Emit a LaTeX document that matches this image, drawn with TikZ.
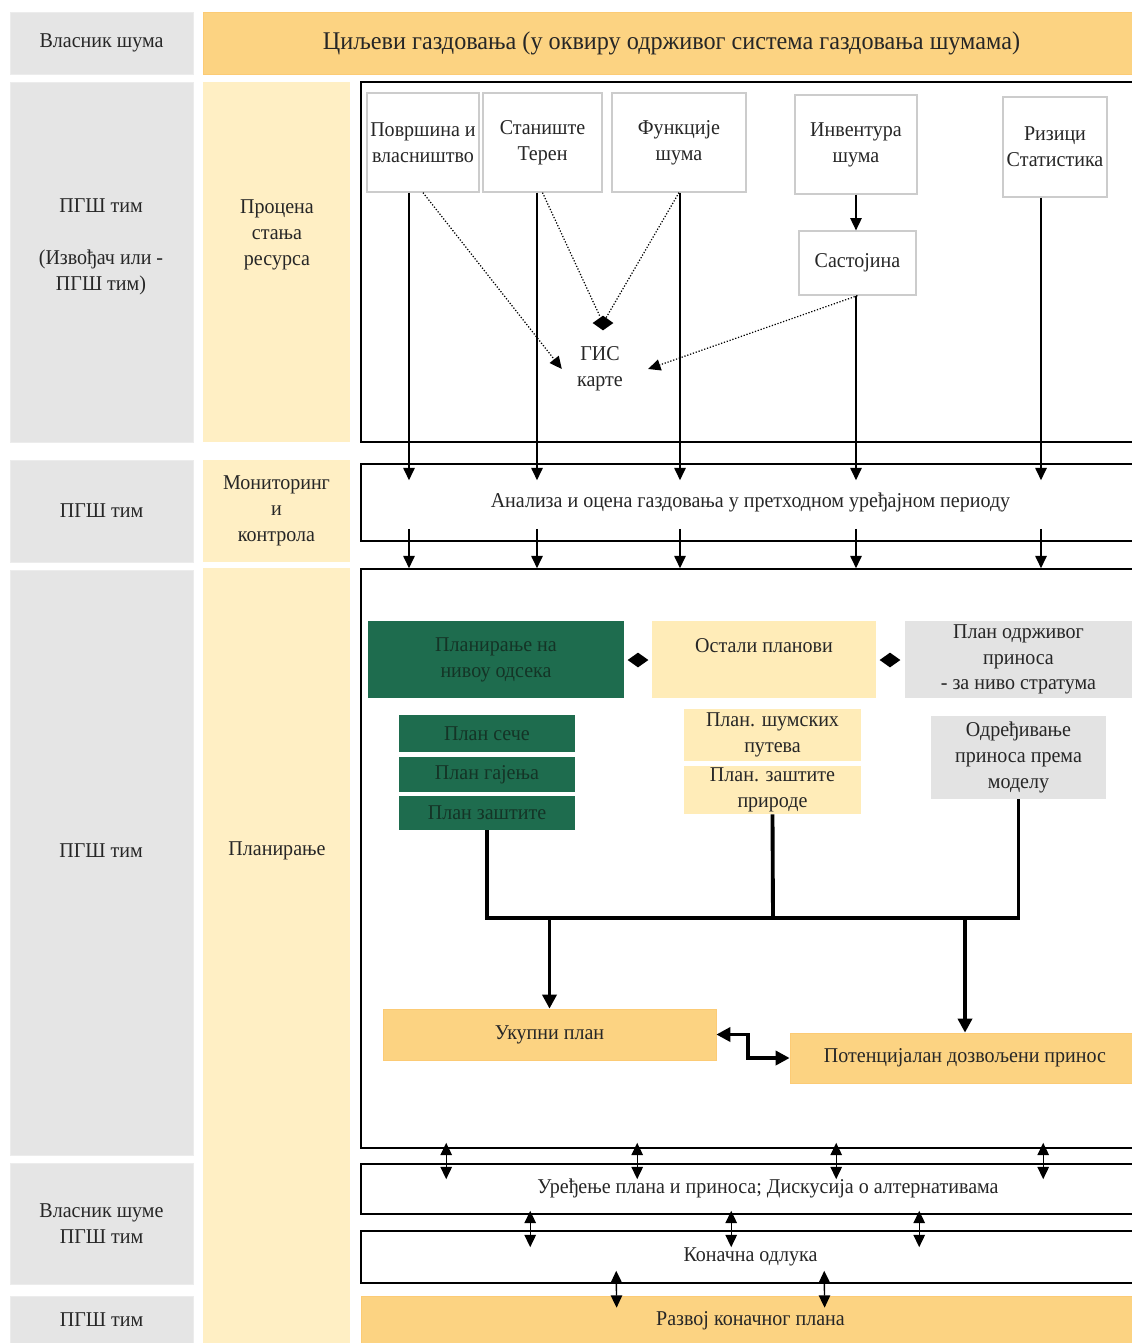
\documentclass[tikz,border=0pt]{standalone}
\usepackage{fontspec}
\setmainfont{Liberation Serif}[FakeStretch=0.95]
\usetikzlibrary{arrows.meta,calc,shapes.geometric}

\definecolor{cgray}{RGB}{229,229,229}
\definecolor{cyel}{RGB}{255,239,196}
\definecolor{cgold}{RGB}{252,211,130}
\definecolor{cgreen}{RGB}{30,108,78}
\definecolor{ctgreen}{RGB}{20,52,38}
\definecolor{cbox}{RGB}{255,236,184}
\definecolor{cpgray}{RGB}{227,227,227}

\tikzset{
	corners/.style n args={4}{at={({(#1+#3)/2},{(#2+#4)/2})}, minimum width={(#3-#1)*0.02cm}, minimum height={(#4-#2)*0.02cm}},
	txt/.style={align=center, text=black!85, font=\fontsize{12}{14.7}\selectfont},
	gcell/.style={txt, fill=cgray, draw=gray!15, inner sep=0pt},
	ycell/.style={txt, fill=cyel, inner sep=0pt},
	gold/.style={txt, fill=cgold, draw=cgold!90!orange, inner sep=0pt},
	stage/.style={txt, draw=black, line width=0.9pt, inner sep=0pt},
	src/.style={txt, fill=white, draw=gray!40, line width=0.7pt, inner sep=0pt},
	gbox/.style={txt, fill=cgreen, text=ctgreen, inner sep=0pt},
	ybox/.style={txt, fill=cbox, inner sep=0pt},
	pbox/.style={txt, fill=cpgray, inner sep=0pt},
	dmd/.style={diamond, fill=black, inner sep=0pt, minimum width=0.42cm, minimum height=0.3cm},
	arr/.style={line width=0.8pt, -{Triangle[length=7pt,width=6.5pt]}},
	darr/.style={line width=0.8pt, {Triangle[length=7pt,width=6.5pt]}-{Triangle[length=7pt,width=6.5pt]}},
	dots/.style={line width=0.7pt, densely dotted, -{Triangle[length=7pt,width=6.5pt]}},
	bold/.style={line width=2.2pt},
	boldarr/.style={bold, -{Triangle[length=8pt,width=8pt]}}
}

\begin{document}
\begin{tikzpicture}[x=0.02cm, y=-0.02cm]
	\useasboundingbox (0,0) rectangle (1132,1343);
	\clip (0,0) rectangle (1132,1343);

	% who
	\node[gcell, corners={10}{12}{193}{74}] (own) {Власник шума};
	\node[gcell, corners={10}{82}{193}{442}] (team1) {};
	\node[txt] (team1t) at (101,247) {ПГШ тим\\[14.7pt](Извођач или -\\ПГШ тим)};
	\node[gcell, corners={10}{460}{193}{562}] (team2) {ПГШ тим};
	\node[gcell, corners={10}{570}{193}{1155}] (team3) {};
	\node[txt] (team3t) at (101,851) {ПГШ тим};
	\node[gcell, corners={10}{1163}{193}{1284}] (team4) {Власник шуме\\ПГШ тим};
	\node[gcell, corners={10}{1296}{193}{1344}] (team5) {ПГШ тим};

	% what
	\node[gold, corners={203}{12}{1140}{74}, font=\fontsize{14.5}{17}\selectfont] (goal) {Циљеви газдовања (у оквиру одрживог система газдовања шумама)};
	\node[ycell, corners={203}{82}{350}{442}] (assess) {};
	\node[txt] (assesst) at (277,235) {Процена\\стања\\ресурса};
	\node[ycell, corners={203}{460}{350}{562}] (monit) {Мониторинг\\и\\контрола};
	\node[ycell, corners={203}{568}{350}{1350}] (planning) {};
	\node[txt] (planningt) at (277,851) {Планирање};

	% stages
	\node[stage, corners={361}{82}{1140}{442}] (res) {};
	\node[stage, corners={361}{464}{1140}{541}] (an) {Анализа и оцена газдовања у претходном уређајном периоду};
	\node[stage, corners={361}{569}{1140}{1148}] (plan) {};
	\node[stage, corners={361}{1164}{1140}{1214}] (ur) {};
	\node[txt] (urt) at (768,1188) {Уређење плана и приноса; Дискусија о алтернативама};
	\node[stage, corners={361}{1231}{1140}{1283}] (kon) {Коначна одлука};
	\node[gold, corners={361}{1296}{1140}{1346}] (dev) {Развој коначног плана};

	% resources
	\node[src, corners={367}{93}{479}{192}] (pov) {Површина и\\власништво};
	\node[src, corners={483}{93}{602}{192}] (stan) {Станиште\\Терен};
	\node[src, corners={612}{93}{746}{192}] (funk) {Функције\\шума};
	\node[src, corners={795}{95}{917}{194}] (inv) {Инвентура\\шума};
	\node[src, corners={1003}{97}{1107}{197}] (riz) {Ризици\\Статистика};
	\node[src, corners={799}{231}{916}{295}] (sast) {Састојина};
	\node[txt, inner xsep=0.3cm] (gis) at (600,369) {ГИС\\карте};
	\node[dmd] (gd) at (603,323) {};

	\coordinate (c1) at (409,0);
	\coordinate (c2) at (537,0);
	\coordinate (c3) at (680,0);
	\coordinate (c4) at (856,0);
	\coordinate (c5) at (1041,0);

	\draw[dots] (pov.south) -- (gis.west);
	\draw[line width=0.7pt, densely dotted] (stan.south) -- (gd);
	\draw[line width=0.7pt, densely dotted] (funk.south) -- (gd);
	\draw[dots] (sast.south) -- ([xshift=0.2cm]gis.east);
	\draw[arr] (c4 |- inv.south) -- (c4 |- sast.north);

	\draw[arr] (c1 |- pov.south) -- ($(c1 |- an.north)+(0,17)$);
	\draw[arr] (c2 |- stan.south) -- ($(c2 |- an.north)+(0,17)$);
	\draw[arr] (c3 |- funk.south) -- ($(c3 |- an.north)+(0,17)$);
	\draw[arr] (c4 |- sast.south) -- ($(c4 |- an.north)+(0,17)$);
	\draw[arr] (c5 |- riz.south) -- ($(c5 |- an.north)+(0,17)$);
	\foreach \c in {c1,c2,c3,c4,c5}
		\draw[arr] ($(\c |- an.south)+(0,-13)$) -- (\c |- plan.north);

	% planning
	\node[gbox, corners={368}{621}{624}{698}] (odsek) {Планирање на\\нивоу одсека};
	\node[ybox, corners={652}{621}{876}{698}] (ostali) {};
	\node[txt] (ostalit) at (764,646) {Остали планови};
	\node[pbox, corners={905}{621}{1132}{698}] (strat) {План одрживог\\приноса\\- за ниво стратума};
	\node[dmd] (dm1) at (638,660) {};
	\node[dmd] (dm2) at (890,660) {};

	\node[gbox, corners={399}{715}{575}{752}] (sece) {План сече};
	\node[gbox, corners={399}{757}{575}{792}] (gaj) {План гајења};
	\node[gbox, corners={399}{796}{575}{830}] (zast) {План заштите};
	\node[ybox, corners={684}{709}{861}{761}] (put) {План. шумских\\путева};
	\node[ybox, corners={684}{766}{861}{814}] (prir) {План. заштите\\природе};
	\node[pbox, corners={931}{716}{1106}{799}] (model) {Одређивање\\приноса према\\моделу};

	\node[gold, corners={383}{1009}{716}{1060}] (ukupni) {Укупни план};
	\node[gold, corners={790}{1033}{1140}{1083}] (potenc) {Потенцијалан дозвољени принос};

	\coordinate (bus) at (773,918);
	\draw[bold] (zast.south) |- (bus) -| (model.south);
	\draw[bold] (prir.south) -- (bus);
	\draw[boldarr] (ukupni.north |- bus) -- (ukupni.north);
	\draw[boldarr] (potenc.north |- bus) -- (potenc.north);
	\draw[bold, {Triangle[length=8pt,width=8pt]}-{Triangle[length=8pt,width=8pt]}] (ukupni.east) -- ++(32,0) |- (potenc.west);

	% decisions
	\foreach \x in {86,277,476,683}
		\draw[darr] ([shift={(\x,-6)}]plan.south west) -- ([shift={(\x,16)}]ur.north west);
	\foreach \x in {170,371,559}
		\draw[darr] ([shift={(\x,-4)}]ur.south west) -- ([shift={(\x,17)}]kon.north west);
	\foreach \x in {256,464}
		\draw[darr] ([shift={(\x,-13)}]kon.south west) -- ([shift={(\x,12)}]dev.north west);
\end{tikzpicture}
\end{document}
